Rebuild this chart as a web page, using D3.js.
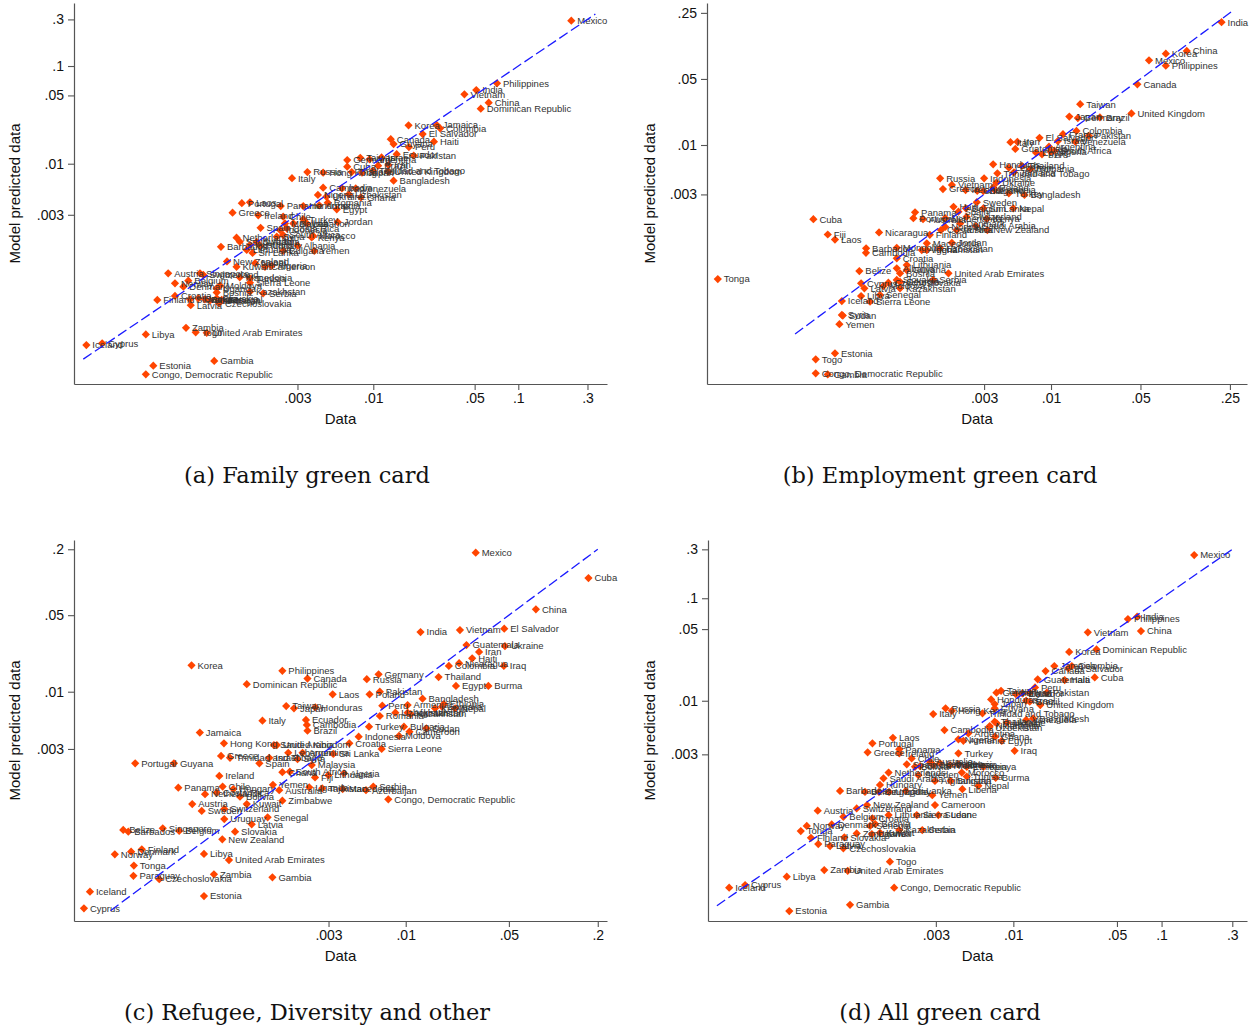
<!DOCTYPE html>
<html><head><meta charset="utf-8">
<script src="https://cdn.jsdelivr.net/npm/d3@7"></script>
<style>body{margin:0;background:#fff} svg{display:block}</style>
</head><body>
<svg id="chart" width="1250" height="1030"></svg>
<script>
// ---- DATA: [country, data share, model predicted share] ----
const familyPoints = [
["Mexico",0.232,0.291],["Philippines",0.0713,0.0665],["India",0.0513,0.0568],["Vietnam",0.0425,0.0513],
["China",0.0625,0.0421],["Dominican Republic",0.0551,0.0366],["Korea",0.0175,0.0247],["Jamaica",0.0274,0.0249],
["Colombia",0.0289,0.0230],["El Salvador",0.0219,0.0201],["Canada",0.0132,0.0178],["Haiti",0.0262,0.0168],
["Guyana",0.0138,0.0159],["Peru",0.0176,0.0148],["Ecuador",0.0145,0.0125],["Pakistan",0.0190,0.0121],
["Germany",0.00661,0.0109],["Taiwan",0.00813,0.0115],["Argentina",0.00942,0.0111],["Israel",0.0114,0.0116],
["Iran",0.0127,0.0097],["Brazil",0.0108,0.00955],["Cuba",0.00661,0.00931],["United Kingdom",0.0127,0.00828],
["Trinidad and Tobago",0.00995,0.00847],["Japan",0.00836,0.00809],["Thailand",0.0071,0.00822],["Hong Kong",0.00451,0.00809],
["Russia",0.00351,0.00822],["Italy",0.00275,0.0071],["Bangladesh",0.0138,0.0067],["Cambodia",0.00451,0.00568],
["Iraq",0.00608,0.0056],["Venezuela",0.00757,0.0056],["Nigeria",0.00415,0.00479],["Ukraine",0.00475,0.00459],
["Uzbekistan",0.00679,0.00486],["Ghana",0.00822,0.00453],["Laos",0.00141,0.00403],["Portugal",0.00124,0.00394],
["Panama",0.0023,0.00369],["Honduras",0.00329,0.00369],["Armenia",0.00424,0.00375],["Romania",0.00485,0.00399],
["Greece",0.00107,0.00315],["Ireland",0.00161,0.00296],["Chile",0.00239,0.00287],["Egypt",0.0056,0.00341],
["Jordan",0.00568,0.00253],["Turkey",0.00329,0.0027],["Lebanon",0.00348,0.00245],["Bolivia",0.00281,0.00245],
["Spain",0.00167,0.00221],["Malaysia",0.00246,0.00245],["Costa Rica",0.00253,0.00218],["Indonesia",0.00228,0.00209],
["Netherlands",0.00114,0.00175],["Saudi Arabia",0.0012,0.00159],["Sweden",0.00157,0.00158],["Hungary",0.00166,0.00144],
["Australia",0.00141,0.00147],["Lithuania",0.00134,0.00131],["Sri Lanka",0.00147,0.00122],["South Africa",0.00239,0.00186],
["Syria",0.00216,0.00179],["Morocco",0.00385,0.00182],["Kenya",0.00376,0.00176],["Albania",0.00301,0.00145],
["Barbados",0.00089,0.00141],["Yemen",0.00392,0.00128],["Bulgaria",0.00239,0.00128],["New Zealand",0.00098,0.0010],
["Kuwait",0.00114,0.00088],["Nepal",0.00153,0.00096],["Cameroon",0.00179,0.00088],["Algeria",0.00199,0.0009],
["Austria",0.000385,0.000755],["Singapore",0.000638,0.000755],["Switzerland",0.000673,0.000726],["Macedonia",0.0012,0.000687],
["Tunisia",0.00141,0.000671],["Sierra Leone",0.00141,0.000605],["Norway",0.000429,0.000597],["Belgium",0.00053,0.000634],
["Denmark",0.00049,0.000551],["Uganda",0.000832,0.000531],["Moldova",0.000877,0.000564],["Bosnia",0.000832,0.000481],
["Kazakhstan",0.00141,0.00049],["Serbia",0.00174,0.000471],["Finland",0.000324,0.000403],["Croatia",0.000429,0.000443],
["Slovenia",0.000545,0.000409],["Georgia",0.000621,0.000419],["Belarus",0.00069,0.000409],["Azerbaijan",0.000748,0.000398],
["Slovakia",0.000832,0.000419],["Senegal",0.0009,0.000403],["Latvia",0.000551,0.000356],["Czechoslovakia",0.000863,0.000372],
["Zambia",0.000511,0.000209],["Togo",0.000596,0.000188],["United Arab Emirates",0.00071,0.000186],["Libya",0.00027,0.000179],
["Iceland",0.000105,0.000139],["Cyprus",0.000135,0.000145],["Estonia",0.000304,0.0000855],["Gambia",0.0008,0.0000957],
["Congo, Democratic Republic",0.00027,0.0000698]
];
const employmentPoints = [
["India",0.215,0.199],["China",0.115,0.0989],["Korea",0.0789,0.0925],["Mexico",0.0583,0.0787],
["Philippines",0.0789,0.069],["Canada",0.0473,0.0439],["Taiwan",0.0169,0.027],["United Kingdom",0.0425,0.0216],
["Japan",0.0139,0.020],["Germany",0.0162,0.0193],["Brazil",0.0241,0.0196],["Colombia",0.0158,0.0141],
["Pakistan",0.0197,0.0125],["France",0.0124,0.013],["El Salvador",0.00813,0.0119],["Venezuela",0.0155,0.0108],
["Israel",0.0113,0.011],["Italy",0.00482,0.0107],["Iran",0.00546,0.0108],["Guatemala",0.00526,0.00908],
["Argentina",0.00964,0.0096],["Nigeria",0.00996,0.0085],["Peru",0.0085,0.00797],["Egypt",0.00764,0.0083],
["South Africa",0.0106,0.0087],["Honduras",0.00353,0.00625],["Romania",0.0069,0.00557],["Thailand",0.00593,0.006],
["Lebanon",0.00468,0.00575],["Trinidad and Tobago",0.00381,0.00501],["Jamaica",0.00513,0.00514],["Russia",0.00136,0.00444],
["Vietnam",0.00168,0.00378],["Indonesia",0.003,0.00444],["Ukraine",0.00374,0.00399],["Poland",0.00354,0.00356],
["Greece",0.00143,0.00342],["Ireland",0.00215,0.00334],["Chile",0.00265,0.00328],["Bulgaria",0.00296,0.00326],
["Armenia",0.00362,0.00334],["Turkey",0.00468,0.00308],["Bangladesh",0.0062,0.00296],["Sweden",0.00263,0.00248],
["Nepal",0.00507,0.00214],["Haiti",0.00173,0.00222],["Sri Lanka",0.00296,0.00214],["Belgium",0.00216,0.00214],
["Panama",0.000866,0.00194],["Portugal",0.00084,0.00168],["Australia",0.001,0.00164],["Netherlands",0.00149,0.00168],
["Spain",0.00189,0.00197],["Switzerland",0.00219,0.00174],["Denmark",0.00195,0.00148],["Kenya",0.00315,0.00165],
["Saudi Arabia",0.00259,0.00139],["Norway",0.00149,0.00136],["Austria",0.00183,0.00126],["New Zealand",0.00318,0.00126],
["Nicaragua",0.000453,0.00119],["Finland",0.00113,0.00112],["Costa Rica",0.00138,0.00126],["Cuba",0.000139,0.00164],
["Fiji",0.00018,0.00113],["Laos",0.000205,0.0010],["Barbados",0.000359,0.000807],["Cambodia",0.000358,0.000724],
["Mongolia",0.000623,0.000818],["Croatia",0.000623,0.000632],["Algeria",0.000977,0.000774],["Afghanistan",0.00107,0.000774],
["Uzbekistan",0.00136,0.000807],["Jordan",0.00168,0.000924],["Macedonia",0.00107,0.000912],["Lithuania",0.000746,0.000537],
["Belize",0.000318,0.000464],["Albania",0.000623,0.000496],["Bosnia",0.000661,0.000439],["Guyana",0.000746,0.000475],
["United Arab Emirates",0.00158,0.000439],["Serbia",0.0012,0.000373],["Slovakia",0.000623,0.000373],["Georgia",0.000661,0.000357],
["Czechoslovakia",0.000536,0.000349],["Moldova",0.00049,0.000322],["Kazakhstan",0.000661,0.000305],["Cyprus",0.000328,0.000344],
["Latvia",0.000348,0.000305],["Libya",0.000328,0.000252],["Senegal",0.000461,0.000259],["Iceland",0.000232,0.000223],
["Sierra Leone",0.000385,0.00022],["Syria",0.000232,0.000159],["Sudan",0.000236,0.000157],["Yemen",0.000222,0.000127],
["Tonga",0.0000249,0.000382],["Estonia",0.000205,0.0000625],["Togo",0.000145,0.000054],
["Congo, Democratic Republic",0.000145,0.0000384],["Gambia",0.00018,0.0000374]
];
const refugeePoints = [
["Mexico",0.0298,0.186],["Cuba",0.173,0.109],["China",0.0762,0.0566],["El Salvador",0.0465,0.0376],
["Vietnam",0.0233,0.0366],["India",0.0126,0.0351],["Guatemala",0.0258,0.0267],["Ukraine",0.047,0.0261],
["Iran",0.0314,0.0231],["Haiti",0.0282,0.0202],["Nicaragua",0.023,0.0182],["Colombia",0.0196,0.0172],
["Iraq",0.0462,0.0172],["Thailand",0.0167,0.0136],["Egypt",0.0219,0.0113],["Burma",0.0363,0.0113],
["Korea",0.000354,0.0174],["Philippines",0.00146,0.0155],["Canada",0.00216,0.0132],["Dominican Republic",0.000838,0.0117],
["Germany",0.00655,0.0144],["Russia",0.00545,0.013],["Laos",0.0032,0.00947],["Poland",0.00569,0.00947],
["Pakistan",0.00668,0.010],["Bangladesh",0.013,0.00863],["Taiwan",0.00155,0.0074],["Japan",0.00175,0.00705],
["Honduras",0.00244,0.00721],["Peru",0.00694,0.00745],["Armenia",0.0103,0.00756],["Romania",0.00668,0.006],
["Uzbekistan",0.00851,0.00643],["Afghanistan",0.0103,0.00643],["Kenya",0.0158,0.00705],["Ethiopia",0.0181,0.00772],
["Somalia",0.0176,0.0073],["Nepal",0.0216,0.00705],["Kazakhstan",0.0108,0.00625],["Italy",0.00107,0.00543],
["Ecuador",0.00211,0.00552],["Cambodia",0.00214,0.00497],["Brazil",0.00216,0.0044],["Turkey",0.00564,0.00479],
["Bulgaria",0.00973,0.00479],["Moldova",0.009,0.00394],["Cameroon",0.0106,0.00431],["Sudan",0.0138,0.00463],
["Indonesia",0.0048,0.00388],["Jamaica",0.000403,0.00423],["Hong Kong",0.000587,0.00338],["Saudi Arabia",0.00128,0.00326],
["United Kingdom",0.00134,0.00326],["Croatia",0.00415,0.00338],["Sierra Leone",0.00687,0.003],["Sri Lanka",0.00323,0.0027],
["Lebanon",0.0016,0.00277],["Argentina",0.002,0.00277],["Syria",0.00185,0.00242],["Malaysia",0.00231,0.00214],
["Greece",0.000561,0.00259],["Trinidad and Tobago",0.000645,0.00249],["Israel",0.00119,0.00249],["Spain",0.00102,0.00222],
["Portugal",0.000147,0.00222],["Guyana",0.000269,0.00222],["Ireland",0.000546,0.0017],["South Africa",0.00164,0.00186],
["Ghana",0.00146,0.00184],["Fiji",0.00243,0.00165],["Lithuania",0.00299,0.00173],["Algeria",0.00382,0.0018],
["Panama",0.000288,0.00133],["Chile",0.000575,0.00136],["Hungary",0.000679,0.00129],["Netherlands",0.000437,0.00116],
["Costa Rica",0.000525,0.0012],["Bolivia",0.000754,0.0011],["Yemen",0.00126,0.00141],["Australia",0.00139,0.00126],
["Uganda",0.00222,0.00134],["Tajikistan",0.00272,0.00131],["Macedonia",0.00374,0.00129],["Azerbaijan",0.00538,0.00126],
["Serbia",0.00603,0.00136],["Congo, Democratic Republic",0.00762,0.00104],["Kuwait",0.000838,0.000942],["Zimbabwe",0.00146,0.00101],
["Austria",0.000358,0.000942],["Sweden",0.000415,0.000815],["Switzerland",0.00059,0.000849],["Uruguay",0.00059,0.000687],
["Senegal",0.00116,0.000713],["Latvia",0.000905,0.000615],["Slovakia",0.000698,0.000526],["Belize",0.000122,0.000546],
["Barbados",0.000132,0.000526],["Singapore",0.000226,0.000566],["Belgium",0.000292,0.000535],["New Zealand",0.000572,0.000449],
["Norway",0.000107,0.000327],["Denmark",0.000138,0.000346],["Finland",0.000163,0.000364],["Libya",0.00043,0.00033],
["United Arab Emirates",0.000635,0.00029],["Tonga",0.000144,0.000258],["Paraguay",0.000143,0.000208],["Czechoslovakia",0.000214,0.000194],
["Zambia",0.000502,0.000215],["Gambia",0.00125,0.000202],["Iceland",0.0000726,0.000149],["Estonia",0.00043,0.000136],
["Cyprus",0.0000661,0.000105]
];
const allPoints = [
["Mexico",0.166,0.264],["India",0.0684,0.0661],["Philippines",0.0593,0.0627],["China",0.0726,0.0479],
["Vietnam",0.0318,0.0465],["Dominican Republic",0.0364,0.0317],["Korea",0.0238,0.0299],["Jamaica",0.0189,0.0218],
["Colombia",0.0248,0.0218],["El Salvador",0.0235,0.0207],["Canada",0.0165,0.0195],["Cuba",0.0354,0.0169],
["Guatemala",0.0146,0.0162],["Haiti",0.0222,0.0159],["Peru",0.014,0.0135],["Pakistan",0.0168,0.012],
["Germany",0.00769,0.012],["Taiwan",0.00826,0.0125],["Poland",0.0104,0.0116],["Ecuador",0.0115,0.0118],
["Iran",0.0129,0.012],["Honduras",0.00708,0.0103],["Brazil",0.0129,0.00978],["Israel",0.0122,0.010],
["United Kingdom",0.0152,0.00908],["Japan",0.00748,0.00929],["Guyana",0.00748,0.00843],["Russia",0.00349,0.00843],
["Hong Kong",0.00385,0.00798],["Italy",0.00288,0.00741],["Trinidad and Tobago",0.00619,0.00754],["Bangladesh",0.0136,0.00673],
["Venezuela",0.0122,0.00649],["Thailand",0.00748,0.00624],["Ukraine",0.00905,0.0061],["Nicaragua",0.00693,0.00566],
["Cambodia",0.00343,0.00518],["Laos",0.00154,0.00435],["Argentina",0.00497,0.00481],["Portugal",0.00112,0.00384],
["Greece",0.00104,0.00314],["Panama",0.0017,0.00336],["Ireland",0.0017,0.00307],["Turkey",0.00426,0.00307],
["Iraq",0.0102,0.00325],["Egypt",0.00835,0.00405],["Nigeria",0.00426,0.0042],["Ghana",0.00753,0.00446],
["Armenia",0.0046,0.00407],["Uzbekistan",0.00689,0.0055],["Romania",0.00773,0.00603],["Chile",0.00206,0.00274],
["Spain",0.00191,0.0024],["Bolivia",0.00217,0.00227],["Costa Rica",0.00235,0.0023],["Australia",0.00274,0.00254],
["South Africa",0.00288,0.00236],["Lebanon",0.0032,0.00245],["Indonesia",0.00374,0.00236],["Algeria",0.00426,0.0024],
["Ethiopia",0.00485,0.00227],["Kenya",0.00628,0.00227],["Netherlands",0.00144,0.00199],["Sweden",0.00229,0.00188],
["Morocco",0.00449,0.00199],["Tunisia",0.00485,0.00182],["Burma",0.0076,0.00177],["Saudi Arabia",0.00133,0.00175],
["Hungary",0.00126,0.00151],["Afghanistan",0.00296,0.00165],["Bulgaria",0.00378,0.00165],["Nepal",0.00581,0.00148],
["Liberia",0.00453,0.00137],["Sri Lanka",0.00188,0.00132],["Barbados",0.000677,0.00132],["Belize",0.000998,0.00129],
["Singapore",0.00124,0.00129],["Uruguay",0.00145,0.00129],["Yemen",0.00284,0.0012],["Cameroon",0.00296,0.00096],
["New Zealand",0.00103,0.00096],["Switzerland",0.000877,0.000891],["Austria",0.000479,0.000846],["Lithuania",0.00144,0.000767],
["Sierra Leone",0.00223,0.000767],["Sudan",0.00312,0.000767],["Belgium",0.000713,0.000738],["Croatia",0.00112,0.000713],
["Norway",0.000404,0.0006],["Denmark",0.000595,0.000622],["Tonga",0.000368,0.000536],["Senegal",0.00108,0.0006],
["Bosnia",0.00117,0.000627],["Zimbabwe",0.000877,0.000508],["Uganda",0.00111,0.000501],["Kuwait",0.00126,0.000515],
["Kazakhstan",0.0017,0.000548],["Serbia",0.00243,0.000548],["Finland",0.000431,0.00046],["Slovakia",0.000724,0.000465],
["Paraguay",0.000483,0.0004],["Latvia",0.00058,0.000382],["Czechoslovakia",0.000713,0.000363],["Togo",0.00147,0.000269],
["Zambia",0.00053,0.000223],["United Arab Emirates",0.000763,0.000219],["Libya",0.000296,0.000192],["Cyprus",0.000155,0.000159],
["Iceland",0.000121,0.00015],["Congo, Democratic Republic",0.00157,0.00015],["Gambia",0.000791,0.000102],["Estonia",0.000308,0.0000887]
];

// tick labels
const familyTicks = [0.003, 0.01, 0.05, 0.1, 0.3];
const employmentTicks = [0.003, 0.01, 0.05, 0.25];
const refugeeTicks = [0.003, 0.01, 0.05, 0.2];
const allTicks = [0.003, 0.01, 0.05, 0.1, 0.3];

// axis ranges (data units)
const familyXDomain = [8.63e-5, 0.409], familyYDomain = [5.56e-5, 0.4416];
const employmentXDomain = [2.05e-5, 0.34], employmentYDomain = [2.96e-5, 0.318];
const refugeeXDomain = [5.66e-5, 0.231], refugeeYDomain = [8.05e-5, 0.243];
const allXDomain = [8.71e-5, 0.377], allYDomain = [7.1e-5, 0.37];

// 45-degree reference line extent (data units)
const familyLine = [1e-4, 0.34];
const employmentLine = [1e-4, 0.255];
const refugeeLine = [1e-4, 0.2];
const allLine = [1e-4, 0.3];

const captions = ["(a) Family green card", "(b) Employment green card", "(c) Refugee, Diversity and other", "(d) All green card"];

// ---- LAYOUT ----
const panels = [
  {pts: familyPoints, ticks: familyTicks, xd: familyXDomain, yd: familyYDomain, line: familyLine, cap: captions[0],
   l: 74, r: 607, t: 3, b: 384, ylabX: 15, capX: 307, capY: 483},
  {pts: employmentPoints, ticks: employmentTicks, xd: employmentXDomain, yd: employmentYDomain, line: employmentLine, cap: captions[1],
   l: 707, r: 1247, t: 3, b: 384, ylabX: 650, capX: 940, capY: 483},
  {pts: refugeePoints, ticks: refugeeTicks, xd: refugeeXDomain, yd: refugeeYDomain, line: refugeeLine, cap: captions[2],
   l: 74, r: 607, t: 540, b: 921, ylabX: 15, capX: 307, capY: 1020},
  {pts: allPoints, ticks: allTicks, xd: allXDomain, yd: allYDomain, line: allLine, cap: captions[3],
   l: 708, r: 1247, t: 540, b: 921, ylabX: 650, capX: 940, capY: 1020}
];

const svg = d3.select("#chart");
svg.append("rect").attr("width", 1250).attr("height", 1030).attr("fill", "#fff");
const fmt = v => String(v).replace(/^0\./, ".");
const sans = "'Liberation Sans', Arial, Helvetica, sans-serif";
const diamond = d3.symbol(d3.symbolSquare, 34);

panels.forEach(p => {
  const x = d3.scaleLog().domain(p.xd).range([p.l, p.r]);
  const y = d3.scaleLog().domain(p.yd).range([p.b, p.t]);
  const g = svg.append("g");

  const gx = g.append("g").attr("transform", `translate(0,${p.b})`)
    .call(d3.axisBottom(x).tickValues(p.ticks).tickFormat(fmt).tickSizeInner(6).tickSizeOuter(0).tickPadding(3));
  const gy = g.append("g").attr("transform", `translate(${p.l},0)`)
    .call(d3.axisLeft(y).tickValues(p.ticks).tickFormat(fmt).tickSizeInner(6).tickSizeOuter(0).tickPadding(4));
  [gx, gy].forEach(a => {
    a.select(".domain").attr("stroke", "#555").attr("stroke-width", 1.2);
    a.selectAll(".tick line").attr("stroke", "#555").attr("stroke-width", 1.1);
    a.selectAll(".tick text").attr("fill", "#111").style("font-family", sans).style("font-size", "14px");
  });

  g.append("text").attr("x", (p.l + p.r) / 2).attr("y", p.b + 40)
    .attr("text-anchor", "middle").style("font-family", sans).style("font-size", "15px").attr("fill", "#111").text("Data");
  g.append("text").attr("transform", `translate(${p.ylabX + 5},${(p.t + p.b) / 2}) rotate(-90)`)
    .attr("text-anchor", "middle").style("font-family", sans).style("font-size", "15px").attr("fill", "#111")
    .text("Model predicted data");

  g.append("g").selectAll("path").data(p.pts).join("path")
    .attr("d", diamond)
    .attr("transform", d => `translate(${x(d[1])},${y(d[2])}) rotate(45)`)
    .attr("fill", "#ff4500");

  g.append("g").selectAll("text").data(p.pts).join("text")
    .attr("x", d => x(d[1]) + 6).attr("y", d => y(d[2])).attr("dy", "0.35em")
    .style("font-family", sans).style("font-size", "9.5px").attr("fill", "#333")
    .text(d => d[0]);

  g.append("line")
    .attr("x1", x(p.line[0])).attr("y1", y(p.line[0]))
    .attr("x2", x(p.line[1])).attr("y2", y(p.line[1]))
    .attr("stroke", "#1a1aff").attr("stroke-width", 1.3).attr("stroke-dasharray", "10,4");

  svg.append("text").attr("x", p.capX).attr("y", p.capY).attr("text-anchor", "middle")
    .style("font-family", "'DejaVu Serif', serif").style("font-size", "22.5px").attr("fill", "#111").text(p.cap);
});
</script>
</body></html>
